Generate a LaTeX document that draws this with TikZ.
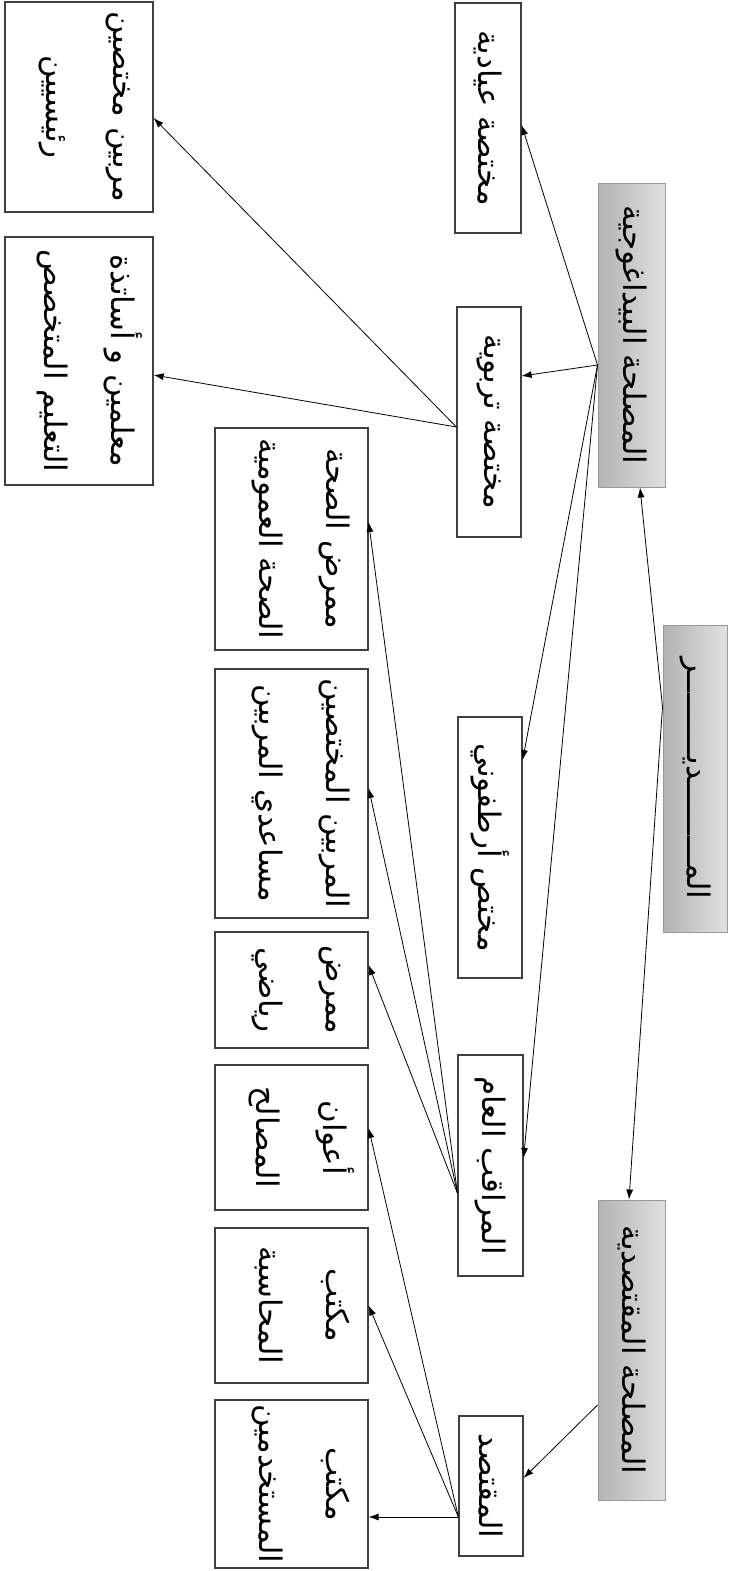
\documentclass[tikz,border=0pt]{standalone}
\usepackage{fontspec}
\usetikzlibrary{arrows.meta,calc}
\newfontfamily\arabicfont[Script=Arabic]{DejaVu Sans}
\TeXXeTstate=1

% text turned a quarter turn clockwise
\newcommand{\vtext}[1]{\rotatebox{-90}{\arabicfont\fontsize{31}{37}\selectfont #1}}
\newcommand{\vtwo}[2]{\vtext{\begin{tabular}{@{}c@{}}#1\\[30pt]#2\rule[-28pt]{0pt}{0pt}\end{tabular}}}

\tikzset{
  wbox/.style={draw=black!75, line width=1.2pt, fill=white, inner sep=0pt},
  gbox/.style={draw=black!40, line width=1pt, left color=black!30, right color=black!12, inner sep=0pt},
  arr/.style={line width=0.8pt, -{Latex[length=10pt,width=7pt]}},
  darr/.style={line width=0.8pt, {Latex[length=10pt,width=7pt]}-{Latex[length=10pt,width=7pt]}}
}

\begin{document}
\begin{tikzpicture}[x=1pt,y=-1pt]
\useasboundingbox (0,0) rectangle (732,1571);
\fill[white] (0,0) rectangle (732,1571);

% top level
\node[gbox, minimum width=64pt, minimum height=307pt] (dir) at (695,778.5)
  {\vtext{\beginR المـــــــــديـــــــــر\endR}};

% departments
\node[gbox, minimum width=67pt, minimum height=304pt] (ped) at (631.5,335)
  {\vtext{\beginR المصلحة البيداغوجية\endR}};
\node[gbox, minimum width=67pt, minimum height=300pt] (eco) at (631.5,1350)
  {\vtext{\beginR المصلحة المقتصدية\endR}};

% third level
\node[wbox, minimum width=66pt, minimum height=230pt] (clin) at (488,118)
  {\vtext{\beginR مختصة عيادية\endR}};
\node[wbox, minimum width=64pt, minimum height=230pt] (edu) at (489,422)
  {\vtext{\beginR مختصة تربوية\endR}};
\node[wbox, minimum width=64pt, minimum height=261pt] (ortho) at (490,847.5)
  {\vtext{\beginR مختص أرطفوني\endR}};
\node[wbox, minimum width=65pt, minimum height=221pt] (genv) at (490.5,1165.5)
  {\vtext{\beginR المراقب العام\endR}};
\node[wbox, minimum width=64pt, minimum height=140pt] (bursar) at (491,1486)
  {\vtext{\beginR المقتصد\endR}};

% fourth level, outer column
\node[wbox, minimum width=148pt, minimum height=210pt] (spec) at (79,107)
  {\vtwo{\beginR مربين مختصين\endR}{\beginR رئيسيين\endR}};
\node[wbox, minimum width=148pt, minimum height=248pt] (teach) at (79,361)
  {\vtwo{\beginR معلمين و أساتذة\endR}{\beginR التعليم المتخصص\endR}};

% fourth level, middle column
\node[wbox, minimum width=153pt, minimum height=222pt] (nurse) at (291.5,539)
  {\vtwo{\beginR ممرض الصحة\endR}{\beginR الصحة العمومية\endR}};
\node[wbox, minimum width=153pt, minimum height=249pt] (educ) at (291.5,793.5)
  {\vtwo{\beginR المربين المختصين\endR}{\beginR مساعدي المربين\endR}};
\node[wbox, minimum width=153pt, minimum height=116pt] (sport) at (291.5,990)
  {\vtwo{\beginR ممرض\endR}{\beginR رياضي\endR}};
\node[wbox, minimum width=153pt, minimum height=145pt] (agents) at (291.5,1137.5)
  {\vtwo{\beginR أعوان\endR}{\beginR المصالح\endR}};
\node[wbox, minimum width=153pt, minimum height=155pt] (acct) at (291.5,1305.5)
  {\vtwo{\beginR مكتب\endR}{\beginR المحاسبة\endR}};
\node[wbox, minimum width=153pt, minimum height=168pt] (staff) at (291.5,1484)
  {\vtwo{\beginR مكتب\endR}{\beginR المستخدمين\endR}};

% director linked to both departments
\draw[darr] ([xshift=8.5pt]ped.south) -- ([yshift=71.5pt]dir.west) -- ([xshift=-2.5pt]eco.north);

% pedagogical department
\draw[arr] ([yshift=-30pt]ped.west) -- ([yshift=-7pt]clin.east);
\draw[arr] ([yshift=-30pt]ped.west) -- ([yshift=46pt]edu.east);
\draw[arr] ([yshift=-30pt]ped.west) -- ([yshift=87.5pt]ortho.east);
\draw[arr] ([yshift=-30pt]ped.west) -- ([yshift=7.5pt]genv.east);

% educational specialist
\draw[arr] ([yshift=-5pt]edu.west) -- ([yshift=-11pt]spec.east);
\draw[arr] ([yshift=-5pt]edu.west) -- ([yshift=-14pt]teach.east);

% general supervisor
\draw[arr] ([yshift=-27.5pt]genv.west) -- ([yshift=17pt]nurse.east);
\draw[arr] ([yshift=-27.5pt]genv.west) -- ([yshift=5.5pt]educ.east);
\draw[arr] ([yshift=-27.5pt]genv.west) -- ([yshift=25pt]sport.east);

% finance department and bursar
\draw[arr] ([yshift=-55pt]eco.west) -- ([yshift=8pt]bursar.east);
\draw[arr] ([yshift=-31pt]bursar.west) -- ([yshift=9.5pt]agents.east);
\draw[arr] ([yshift=-31pt]bursar.west) -- (acct.east);
\draw[arr] ([yshift=-31pt]bursar.west) -- ([yshift=-33pt]staff.east);
\end{tikzpicture}
\end{document}
